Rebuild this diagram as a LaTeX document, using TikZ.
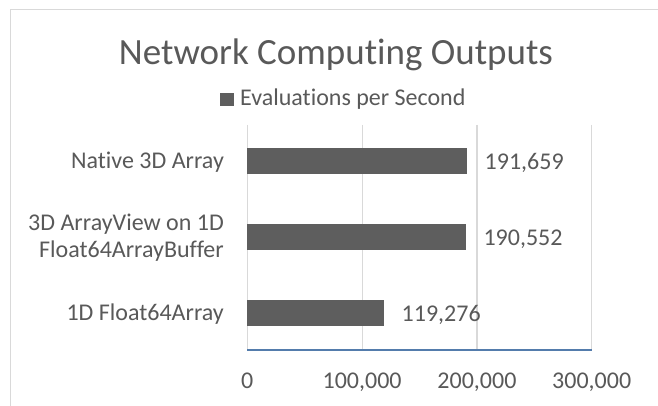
\documentclass[tikz,border=0pt]{standalone}
\usepackage{fontspec}
\setmainfont[Ligatures=NoCommon]{Carlito}
\definecolor{txt}{RGB}{89,89,89}
\definecolor{barc}{RGB}{94,94,94}
\definecolor{gridc}{RGB}{217,217,217}
\definecolor{axisc}{RGB}{84,124,172}
\tikzset{
  lbl/.style={inner sep=0pt, text=txt, font=\fontsize{24}{29}\selectfont},
  catlbl/.style={lbl, anchor=base east, align=right},
  vallbl/.style={lbl, anchor=base west},
  ticklbl/.style={lbl, anchor=base},
  barbox/.style={fill=barc, draw=none},
  gridln/.style={draw=gridc, line width=1.2pt},
}
\begin{document}
\begin{tikzpicture}[x=1pt,y=-1pt]
\useasboundingbox[fill=white] (0,0) rectangle (658,406);
% frame
\draw[draw=gridc, line width=1.5pt] (658,9.5) -- (10.5,9.5) -- (10.5,406);
% title and legend
\node[inner sep=0pt, text=txt, anchor=base, font=\fontsize{37}{44}\selectfont] (title) at (336,65) {Network Computing Outputs};
\node[barbox, minimum width=14pt, minimum height=13pt, inner sep=0pt] (legsq) at (226.5,99.5) {};
\node[lbl, anchor=base west] (legtxt) at (240,106) {Evaluations per Second};
% gridlines
\foreach \i/\x in {0/247.3,1/362.1,2/476.9,3/591.7}{
  \coordinate (gt\i) at (\x,125);
  \coordinate (gb\i) at (\x,350);
  \draw[gridln] (gt\i) -- (gb\i);
}
% axis
\draw[draw=axisc, line width=1.3pt] (gb0) -- (gb3);
% tick labels
\node[ticklbl] (t0) at (247.3,388) {0};
\node[ticklbl] (t1) at (362.1,388) {100,000};
\node[ticklbl] (t2) at (476.9,388) {200,000};
\node[ticklbl] (t3) at (591.7,388) {300,000};
% bars
\fill[barc] (247.3,148.5) rectangle (467.3,174.5);
\fill[barc] (247.3,224) rectangle (466.1,250);
\fill[barc] (247.3,299.5) rectangle (384.2,325.5);
% value labels
\node[vallbl] (v1) at (484.5,170) {191,659};
\node[vallbl] (v2) at (483.3,245.5) {190,552};
\node[vallbl] (v3) at (401.5,321) {119,276};
% category labels
\node[catlbl] (c1) at (224,169) {Native 3D Array};
\node[catlbl] (c2a) at (224,230.7) {3D ArrayView on 1D};
\node[catlbl] (c2b) at (224,257.3) {Float64ArrayBuffer};
\node[catlbl] (c3) at (224,320) {1D Float64Array};
\end{tikzpicture}
\end{document}
